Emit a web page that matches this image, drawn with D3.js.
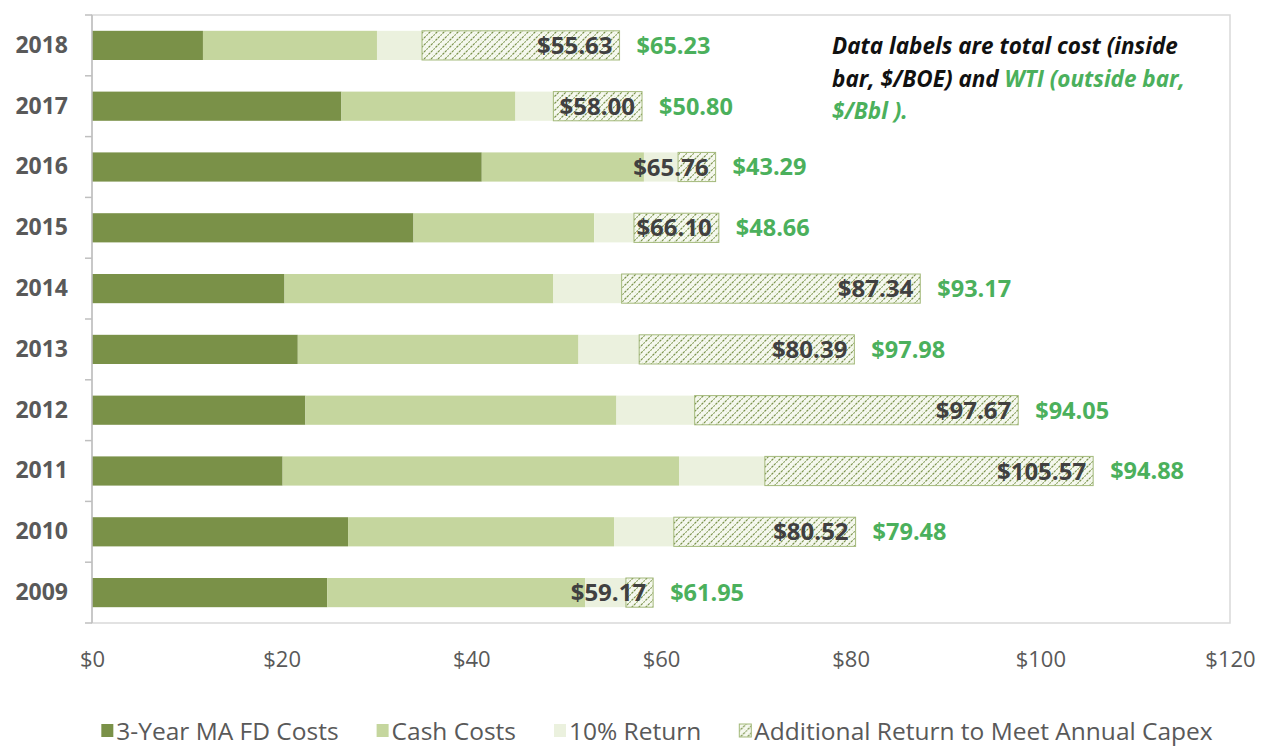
<!DOCTYPE html>
<html><head><meta charset="utf-8">
<script src="https://cdn.jsdelivr.net/npm/d3@7"></script>
<style>body{margin:0;background:#fff}svg{display:block}</style>
</head><body><svg id="c" width="1268" height="754"></svg>
<script>
// ---- data (top to bottom as drawn) ----
const years = ["2018","2017","2016","2015","2014","2013","2012","2011","2010","2009"];
const fdCosts        = [11.7, 26.3, 41.1, 33.9, 20.3, 21.7, 22.5, 20.1, 27.0, 24.8];
const cashCosts      = [18.35, 18.35, 17.1, 19.05, 28.35, 29.6, 32.8, 41.8, 28.05, 27.2];
const tenPctReturn   = [4.75, 4.0, 3.6, 4.2, 7.2, 6.4, 8.25, 9.05, 6.3, 4.3];
const additionalReturn = [20.83, 9.35, 3.96, 8.95, 31.49, 22.69, 34.12, 34.62, 19.17, 2.87];
const totalCost      = [55.63, 58.00, 65.76, 66.10, 87.34, 80.39, 97.67, 105.57, 80.52, 59.17];
const wti            = [65.23, 50.80, 43.29, 48.66, 93.17, 97.98, 94.05, 94.88, 79.48, 61.95];
const xTicks = [0, 20, 40, 60, 80, 100, 120];
const seriesNames = ["3-Year MA FD Costs", "Cash Costs", "10% Return", "Additional Return to Meet Annual Capex"];
const seriesKeys = ["fd", "cash", "ret", "add"];

(function () {
const rows = years.map((y, i) => ({year: y, fd: fdCosts[i], cash: cashCosts[i], ret: tenPctReturn[i], add: additionalReturn[i], total: totalCost[i], wti: wti[i]}));

const svg = d3.select("#c");
const FONT = "'Open Sans', 'DejaVu Sans', sans-serif";
const pLeft = 92, pRight = 1230, pTop = 15, pBottom = 623;

const x = d3.scaleLinear().domain([0, 120]).range([pLeft, pRight]);
const y = d3.scaleBand().domain(years).range([pTop, pBottom]).paddingInner(0.52).paddingOuter(0.26);

const fills = {fd: "#7a9148", cash: "#c5d69e", ret: "#ebf1de", add: "url(#hatch)"};

// hatch pattern
const defs = svg.append("defs");
const pat = defs.append("pattern").attr("id", "hatch").attr("patternUnits", "userSpaceOnUse")
  .attr("width", 7).attr("height", 7);
pat.append("rect").attr("width", 7).attr("height", 7).attr("fill", "#f5f8ee");
pat.append("path").attr("d", "M-1,8 L8,-1 M-2,2 L2,-2 M5,9 L9,5")
  .attr("stroke", "#7a924a").attr("stroke-width", 1.2).attr("stroke-dasharray", "2.4,1.1");
pat.append("path").attr("d", "M0,0 L7,7").attr("stroke", "#9fb47a").attr("stroke-width", 0.6)
  .attr("stroke-dasharray", "1,3");

// plot border
svg.append("rect").attr("x", pLeft).attr("y", pTop).attr("width", pRight - pLeft).attr("height", pBottom - pTop)
  .attr("fill", "none").attr("stroke", "#d9d9d9").attr("stroke-width", 1.5);

// stacked bars
const stack = d3.stack().keys(seriesKeys);
const layers = stack(rows);
svg.append("g").selectAll("g").data(layers).join("g")
  .attr("fill", d => fills[d.key])
  .attr("stroke", d => d.key === "add" ? "#a3b97a" : "none")
  .attr("stroke-width", 1)
  .selectAll("rect").data(d => d).join("rect")
  .attr("x", d => x(d[0]))
  .attr("y", d => y(d.data.year))
  .attr("width", d => x(d[1]) - x(d[0]))
  .attr("height", y.bandwidth());

// left axis line + boundary ticks
svg.append("line").attr("x1", pLeft).attr("x2", pLeft).attr("y1", pTop).attr("y2", pBottom)
  .attr("stroke", "#bfbfbf").attr("stroke-width", 1.5);
const step = y.step();
const bounds = d3.range(years.length + 1).map(i => pTop + i * step);
svg.append("g").selectAll("line").data(bounds).join("line")
  .attr("x1", pLeft - 7).attr("x2", pLeft).attr("y1", d => d).attr("y2", d => d)
  .attr("stroke", "#bfbfbf").attr("stroke-width", 1.5);

// y axis labels
const yAxis = svg.append("g").attr("transform", `translate(${pLeft},0)`)
  .call(d3.axisLeft(y).tickSize(0).tickPadding(24));
yAxis.select(".domain").remove();
yAxis.selectAll("text").attr("font-family", FONT).attr("font-size", 23).attr("font-weight", "bold").attr("fill", "#595959");

// x axis labels
const xAxis = svg.append("g").attr("transform", `translate(0,${pBottom})`)
  .call(d3.axisBottom(x).tickValues(xTicks).tickFormat(d => "$" + d).tickSize(0).tickPadding(28));
xAxis.select(".domain").remove();
xAxis.selectAll("text").attr("font-family", FONT).attr("font-size", 22).attr("fill", "#595959");

// total cost labels (inside bar)
svg.append("g").selectAll("text").data(rows).join("text")
  .attr("x", d => x(d.total) - 7)
  .attr("y", d => y(d.year) + y.bandwidth() / 2)
  .attr("dy", "0.36em").attr("text-anchor", "end")
  .attr("font-family", FONT).attr("font-size", 24).attr("font-weight", "bold").attr("fill", "#404040")
  .text(d => "$" + d.total.toFixed(2));

// WTI labels (outside bar)
svg.append("g").selectAll("text").data(rows).join("text")
  .attr("x", d => x(d.total) + 17)
  .attr("y", d => y(d.year) + y.bandwidth() / 2)
  .attr("dy", "0.36em").attr("text-anchor", "start")
  .attr("font-family", FONT).attr("font-size", 23.5).attr("font-weight", "bold").attr("fill", "#4bb05c")
  .text(d => "$" + d.wti.toFixed(2));

// annotation
const ann = svg.append("text").attr("font-family", FONT).attr("font-size", 22.5)
  .attr("font-weight", "bold").attr("font-style", "italic").attr("fill", "#111");
ann.append("tspan").attr("x", 832).attr("y", 54).text("Data labels are total cost (inside");
ann.append("tspan").attr("x", 832).attr("y", 87).text("bar, $/BOE) and ");
ann.append("tspan").attr("fill", "#4bb05c").text("WTI (outside bar,");
ann.append("tspan").attr("x", 832).attr("y", 119).attr("fill", "#4bb05c").text("$/Bbl ).");

// legend
const legFills = seriesKeys.map(k => fills[k]);
const leg = svg.append("g");
const items = leg.selectAll("g").data(seriesNames).join("g");
items.append("rect").attr("width", 12).attr("height", 13).attr("y", -7)
  .attr("fill", (d, i) => legFills[i])
  .attr("stroke", (d, i) => i === 3 ? "#a3b97a" : "none");
items.append("text").attr("x", 15).attr("dy", "0.36em")
  .attr("font-family", FONT).attr("font-size", 24.5).attr("fill", "#595959").text(d => d);
const widths = [];
items.each(function () {
  widths.push(15 + d3.select(this).select("text").node().getComputedTextLength());
});
const gap = 38;
const totalW = d3.sum(widths) + gap * (widths.length - 1);
let start = 657 - totalW / 2;
items.attr("transform", (d, i) => {
  const t = `translate(${start},731)`;
  start += widths[i] + gap;
  return t;
});
})();
</script></body></html>
